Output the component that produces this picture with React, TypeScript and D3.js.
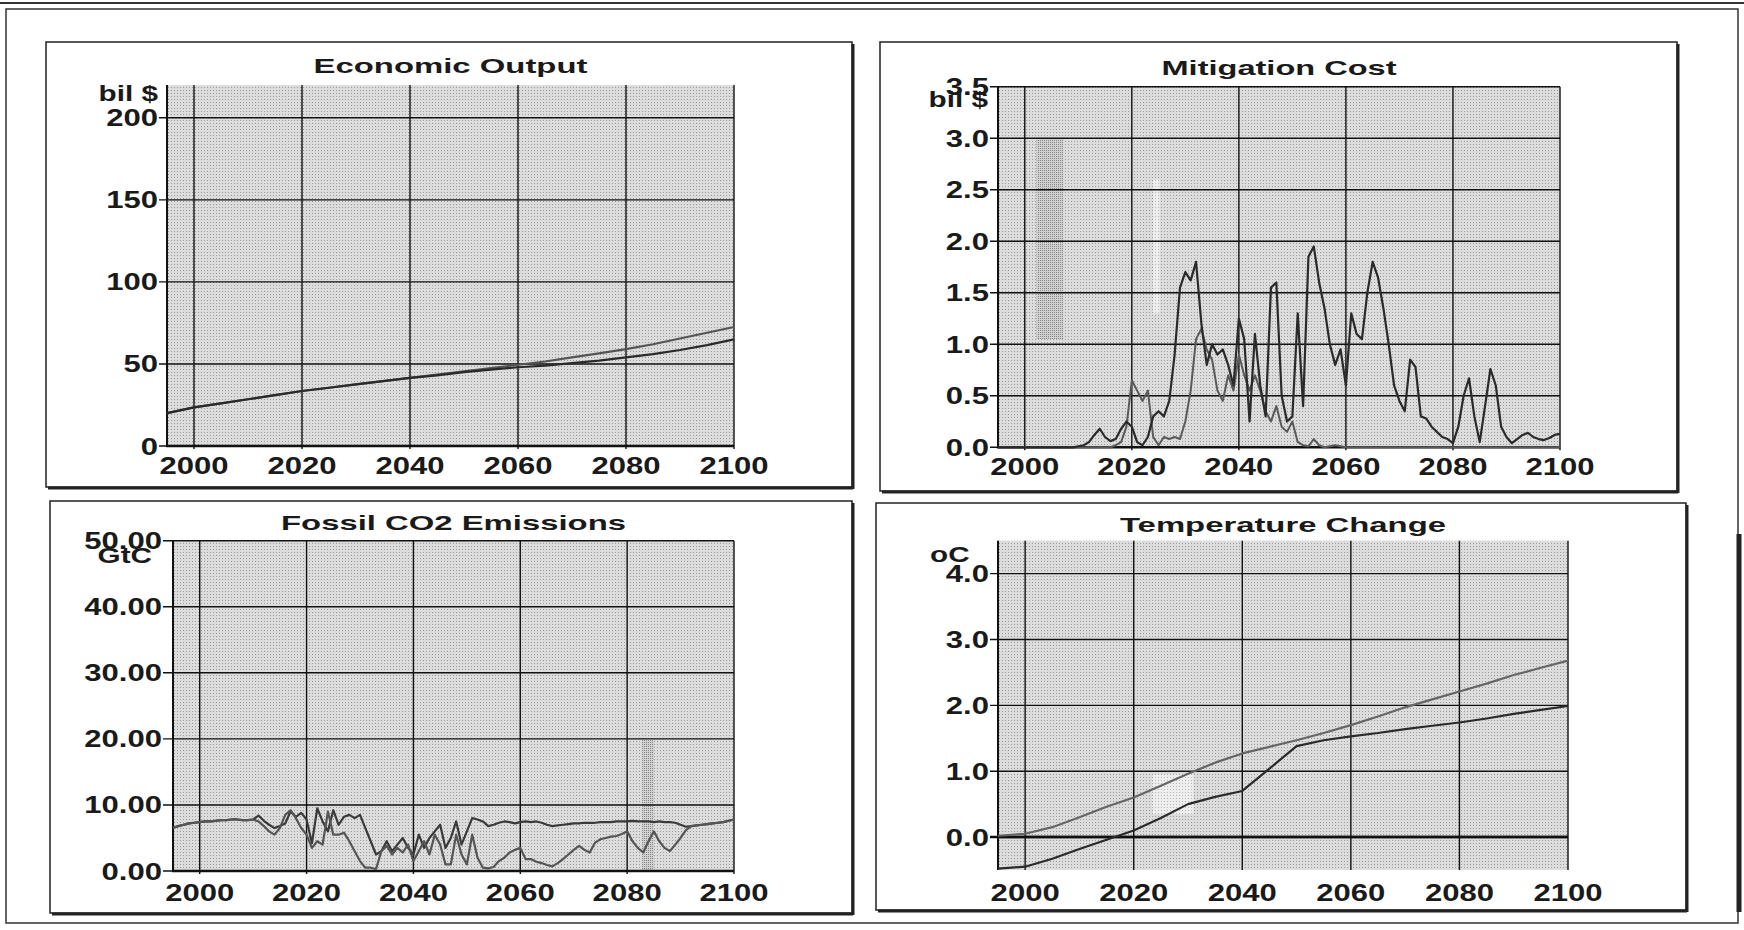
import React from "react";
import * as d3 from "d3";

// ---------- DATA ----------
const YEARS = Array.from({ length: 106 }, (_, i) => 1995 + i);
const YEARS5 = [1995, 2000, 2005, 2010, 2015, 2020, 2025, 2030, 2035, 2040, 2045, 2050, 2055, 2060, 2065, 2070, 2075, 2080, 2085, 2090, 2095, 2100];
const X_TICKS = [2000, 2020, 2040, 2060, 2080, 2100];

const ECON_A = [20, 23.5, 26, 28.5, 31, 33.5, 35.5, 37.5, 39.5, 41.5, 43.5, 45.5, 47.5, 49.5, 51.5, 54, 56.5, 59, 62, 65.5, 69, 72.5];
const ECON_B = [20, 23.5, 26, 28.5, 31, 33.5, 35.5, 37.5, 39.5, 41.5, 43, 45, 46.5, 48, 49, 50.5, 52, 54, 56, 58.5, 61.5, 65];
const ECON_TICKS = [0, 50, 100, 150, 200];

const MIT_A = [
  0, 0, 0, 0, 0, 0, 0, 0, 0, 0, 0, 0, 0, 0, 0,
  0.01, 0.02, 0.05, 0.12, 0.18, 0.1, 0.06, 0.08, 0.18, 0.25,
  0.2, 0.05, 0.02, 0.1, 0.3, 0.35, 0.3, 0.45, 0.9, 1.55,
  1.7, 1.62, 1.8, 1.2, 0.8, 1.0, 0.9, 0.95, 0.8, 0.6,
  1.25, 1.05, 0.25, 1.1, 0.6, 0.3, 1.55, 1.6, 0.5, 0.25,
  0.3, 1.3, 0.4, 1.85, 1.95, 1.6, 1.35, 1.0, 0.8, 0.95,
  0.6, 1.3, 1.1, 1.05, 1.5, 1.8, 1.65, 1.35, 1.0, 0.6,
  0.45, 0.35, 0.85, 0.78, 0.3, 0.28, 0.2, 0.15, 0.1, 0.08,
  0.04, 0.2, 0.5, 0.67, 0.3, 0.05, 0.4, 0.76, 0.6, 0.2,
  0.1, 0.04, 0.08, 0.12, 0.14, 0.1, 0.08, 0.07, 0.09, 0.12,
  0.13,
];
const MIT_B = [
  0, 0, 0, 0, 0, 0, 0, 0, 0, 0, 0, 0, 0, 0, 0, 0, 0, 0, 0, 0, 0, 0,
  0.02, 0.05, 0.2,
  0.65, 0.55, 0.45, 0.55, 0.1, 0.02, 0.1, 0.08, 0.1, 0.08,
  0.25, 0.55, 1.05, 1.15, 0.95, 0.85, 0.55, 0.45, 0.7, 0.55,
  0.9, 0.7, 0.55, 0.7, 0.55, 0.35, 0.25, 0.4, 0.2, 0.15,
  0.25, 0.05, 0.02, 0.01, 0.08, 0.02, 0, 0.01, 0.02, 0.01,
  0, 0, 0, 0, 0, 0, 0, 0, 0, 0,
  0, 0, 0, 0, 0, 0, 0, 0, 0, 0,
  0, 0, 0, 0, 0, 0, 0, 0, 0, 0,
  0, 0, 0, 0, 0, 0, 0, 0, 0, 0,
  0,
];
const MIT_TICKS = [0, 0.5, 1.0, 1.5, 2.0, 2.5, 3.0, 3.5];

const CO2_A = [
  6.5, 6.8, 7.0, 7.2, 7.3,
  7.4, 7.5, 7.5, 7.6, 7.7, 7.7, 7.8, 7.8, 7.7, 7.7,
  7.8, 8.4, 7.6, 7.0, 6.5, 6.8, 7.2, 9.0, 8.2, 8.8,
  7.8, 4.2, 9.5, 7.5, 6.0, 9.2, 7.0, 8.2, 8.5, 8.0,
  8.5, 6.5, 4.5, 2.5, 3.0, 4.5, 3.0, 4.0, 5.0, 3.5,
  2.5, 5.5, 3.5, 5.0, 6.0, 7.0, 3.5, 5.0, 7.5, 4.0,
  6.0, 8.0, 7.8, 7.5, 6.8, 7.0, 7.3, 7.5, 7.4, 7.2,
  7.4, 7.5, 7.4, 7.5, 7.3, 7.0, 6.8, 6.9, 7.0, 7.1,
  7.2, 7.2, 7.3, 7.3, 7.3, 7.4, 7.4, 7.4, 7.5, 7.5,
  7.5, 7.6, 7.5, 7.5, 7.5, 7.4, 7.5, 7.4, 7.4, 7.3,
  7.0, 6.7, 6.8, 6.9, 7.0, 7.1, 7.2, 7.3, 7.4, 7.6,
  7.8,
];
const CO2_B = [
  6.5, 6.8, 7.0, 7.2, 7.3,
  7.4, 7.5, 7.5, 7.6, 7.7, 7.7, 7.8, 7.8, 7.7, 7.7,
  7.8, 7.5, 6.8, 6.0, 5.5, 6.5, 8.5, 9.2, 8.0, 6.5,
  5.5, 3.5, 4.5, 4.0, 9.0, 5.5, 5.5, 5.8, 4.5, 3.0,
  1.5, 0.5, 0.5, 0.3, 3.0, 3.8, 2.5, 3.5, 2.8, 4.0,
  1.5, 3.0, 4.5, 2.5, 5.5, 4.0, 1.0, 1.0, 5.5, 2.5,
  1.0, 5.5, 2.0, 0.5, 0.4, 0.6, 1.5, 2.0, 2.8, 3.2,
  3.5, 1.8, 1.8, 1.4, 1.2, 0.9, 0.7, 1.2, 1.8, 2.5,
  3.2, 3.8, 3.2, 2.8, 4.3, 4.8, 5.0, 5.2, 5.3, 5.6,
  6.0, 4.5, 3.5, 2.8, 4.5, 6.0, 4.5, 3.5, 3.0, 4.0,
  5.0, 6.2, 6.8, 6.9, 7.0, 7.1, 7.2, 7.3, 7.4, 7.6,
  7.8,
];
const CO2_TICKS = [0, 10, 20, 30, 40, 50];

const TEMP_A = [0.02, 0.05, 0.15, 0.3, 0.46, 0.6, 0.78, 0.96, 1.13, 1.27, 1.37, 1.47, 1.58, 1.7, 1.83, 1.97, 2.09, 2.21, 2.33, 2.46, 2.57, 2.68];
const TEMP_B = [-0.48, -0.45, -0.33, -0.18, -0.04, 0.1, 0.29, 0.5, 0.61, 0.7, 1.04, 1.38, 1.47, 1.53, 1.58, 1.64, 1.69, 1.74, 1.8, 1.87, 1.93, 1.99];
const TEMP_TICKS = [0, 1, 2, 3, 4];

// ---------- STYLE ----------
const FONT = "'Liberation Sans', Arial, Helvetica, sans-serif";
const SX = 1.35;

type Series = { xs: number[]; ys: number[]; color: string; width: number };
type Patch = { x0: number; x1: number; y0: number; y1: number; fill: string };
type PanelCfg = {
  title: string;
  titleLen: number;
  titleY: number;
  frame: [number, number, number, number];
  left: number;
  right: number;
  top: number;
  bottom: number;
  yDomain: [number, number];
  yTicks: number[];
  yFmt: (v: number) => string;
  labelRight: number;
  xLabelY: number;
  unit: string;
  unitX: number;
  unitY: number;
  unitAnchor: "start" | "end";
  axisAtZero?: boolean;
  series: Series[];
  patches?: Patch[];
};

function WText(props: { x: number; y: number; anchor: "start" | "middle" | "end"; size: number; children: React.ReactNode; sx?: number }) {
  const { x, y, anchor, size, children, sx = SX } = props;
  return (
    <text
      transform={`translate(${x},${y}) scale(${sx},1)`}
      textAnchor={anchor}
      fontSize={size}
      fontWeight="bold"
      fontFamily={FONT}
      fill="#1a1a1a"
    >
      {children}
    </text>
  );
}

function Panel({ cfg }: { cfg: PanelCfg }) {
  const x = d3.scaleLinear().domain([1995, 2100]).range([cfg.left, cfg.right]);
  const y = d3.scaleLinear().domain(cfg.yDomain).range([cfg.bottom, cfg.top]);
  const line = d3
    .line<[number, number]>()
    .x((d) => x(d[0]))
    .y((d) => y(d[1]));
  const [fx0, fy0, fx1, fy1] = cfg.frame;
  const cx = (cfg.left + cfg.right) / 2;
  const axisY = cfg.axisAtZero ? y(0) : cfg.bottom;
  return (
    <g>
      <rect x={fx0} y={fy0} width={fx1 - fx0} height={fy1 - fy0} fill="#fff" stroke="#222" strokeWidth={1.5} />
      <line x1={fx0 + 2} y1={fy1 + 1} x2={fx1 + 1} y2={fy1 + 1} stroke="#222" strokeWidth={3} />
      <line x1={fx1 + 1} y1={fy0 + 2} x2={fx1 + 1} y2={fy1 + 2} stroke="#222" strokeWidth={3} />
      <text
        x={cx}
        y={cfg.titleY}
        textAnchor="middle"
        fontSize={21}
        fontWeight="bold"
        fontFamily={FONT}
        fill="#1a1a1a"
        textLength={cfg.titleLen}
        lengthAdjust="spacingAndGlyphs"
      >
        {cfg.title}
      </text>
      <rect x={cfg.left} y={cfg.top} width={cfg.right - cfg.left} height={cfg.bottom - cfg.top} fill="url(#halftone)" />
      {(cfg.patches || []).map((p, i) => (
        <rect key={"p" + i} x={x(p.x0)} y={y(p.y1)} width={x(p.x1) - x(p.x0)} height={y(p.y0) - y(p.y1)} fill={p.fill} />
      ))}
      {cfg.yTicks.map((t) => (
        <g key={"yt" + t}>
          <line x1={cfg.labelRight} x2={cfg.right} y1={y(t)} y2={y(t)} stroke="#111" strokeWidth={t === 0 && cfg.axisAtZero ? 2.5 : 1.4} />
          <WText x={cfg.labelRight - 1} y={y(t) + 8.5} anchor="end" size={23}>
            {cfg.yFmt(t)}
          </WText>
        </g>
      ))}
      {X_TICKS.map((t) => (
        <g key={"xt" + t}>
          <line x1={x(t)} x2={x(t)} y1={cfg.top} y2={cfg.bottom + (cfg.axisAtZero ? 0 : 3)} stroke="#111" strokeWidth={1.4} />
          <WText x={x(t)} y={cfg.xLabelY} anchor="middle" size={23}>
            {String(t)}
          </WText>
        </g>
      ))}
      <line x1={cfg.left} x2={cfg.left} y1={cfg.top} y2={cfg.bottom} stroke="#111" strokeWidth={2} />
      <line x1={cfg.left - 1} x2={cfg.right} y1={axisY} y2={axisY} stroke="#111" strokeWidth={2.5} />
      <WText x={cfg.unitX} y={cfg.unitY} anchor={cfg.unitAnchor} size={22}>
        {cfg.unit}
      </WText>
      {cfg.series.map((s, i) => (
        <path
          key={"s" + i}
          d={line(s.xs.map((xv, j) => [xv, s.ys[j]] as [number, number])) || ""}
          fill="none"
          stroke={s.color}
          strokeWidth={s.width}
          strokeLinejoin="round"
        />
      ))}
    </g>
  );
}

const PANELS: PanelCfg[] = [
  {
    title: "Economic Output",
    titleLen: 274,
    titleY: 73,
    frame: [46, 42, 852, 487],
    left: 167,
    right: 734,
    top: 85,
    bottom: 446,
    yDomain: [0, 220],
    yTicks: ECON_TICKS,
    yFmt: (v) => String(v),
    labelRight: 159,
    xLabelY: 474,
    unit: "bil $",
    unitX: 158,
    unitY: 101,
    unitAnchor: "end",
    series: [
      { xs: YEARS5, ys: ECON_A, color: "#555", width: 2.2 },
      { xs: YEARS5, ys: ECON_B, color: "#2a2a2a", width: 2.2 },
    ],
  },
  {
    title: "Mitigation Cost",
    titleLen: 235,
    titleY: 75,
    frame: [880, 42, 1677, 491],
    left: 998,
    right: 1560,
    top: 86.7,
    bottom: 447.3,
    yDomain: [0, 3.5],
    yTicks: MIT_TICKS,
    yFmt: (v) => v.toFixed(1),
    labelRight: 990,
    xLabelY: 475,
    unit: "bil $",
    unitX: 988,
    unitY: 107,
    unitAnchor: "end",
    series: [
      { xs: YEARS, ys: MIT_B, color: "#5a5a5a", width: 2 },
      { xs: YEARS, ys: MIT_A, color: "#2a2a2a", width: 2.2 },
    ],
    patches: [
      { x0: 2002.2, x1: 2007.2, y0: 1.05, y1: 3.0, fill: "url(#dense)" },
      { x0: 2024.0, x1: 2025.2, y0: 1.3, y1: 2.6, fill: "url(#light)" },
    ],
  },
  {
    title: "Fossil CO2 Emissions",
    titleLen: 345,
    titleY: 530,
    frame: [50, 501, 852, 913],
    left: 173,
    right: 734,
    top: 540.7,
    bottom: 871,
    yDomain: [0, 50],
    yTicks: CO2_TICKS,
    yFmt: (v) => v.toFixed(2),
    labelRight: 163,
    xLabelY: 901,
    unit: "GtC",
    unitX: 152,
    unitY: 563,
    unitAnchor: "end",
    series: [
      { xs: YEARS, ys: CO2_A, color: "#3a3a3a", width: 2.2 },
      { xs: YEARS, ys: CO2_B, color: "#555", width: 2.2 },
    ],
    patches: [{ x0: 2082.8, x1: 2085.0, y0: 0, y1: 19.8, fill: "url(#dense)" }],
  },
  {
    title: "Temperature Change",
    titleLen: 326,
    titleY: 532,
    frame: [876, 503, 1686, 910],
    left: 998,
    right: 1568,
    top: 540.7,
    bottom: 870,
    yDomain: [-0.5, 4.5],
    yTicks: TEMP_TICKS,
    yFmt: (v) => v.toFixed(1),
    labelRight: 990,
    xLabelY: 901,
    unit: "oC",
    unitX: 930,
    unitY: 562,
    unitAnchor: "start",
    axisAtZero: true,
    series: [
      { xs: YEARS5, ys: TEMP_A, color: "#666", width: 2.2 },
      { xs: YEARS5, ys: TEMP_B, color: "#2a2a2a", width: 2.2 },
    ],
    patches: [{ x0: 2023.5, x1: 2031, y0: 0.35, y1: 0.95, fill: "url(#light)" }],
  },
];

export default function App() {
  return (
    <svg
      width={1744}
      height={930}
      viewBox="0 0 1744 930"
      style={{ position: "absolute", left: 0, top: 0, background: "#fff" }}
    >
      <defs>
        <pattern id="halftone" width={3} height={3} patternUnits="userSpaceOnUse">
          <rect width={3} height={3} fill="#dcdcdc" />
          <rect width={1} height={1} fill="#9c9c9c" />
        </pattern>
        <pattern id="dense" width={2} height={2} patternUnits="userSpaceOnUse">
          <rect width={2} height={2} fill="#d0d0d0" />
          <rect width={1} height={1} fill="#888" />
        </pattern>
        <pattern id="light" width={3} height={3} patternUnits="userSpaceOnUse">
          <rect width={3} height={3} fill="#eeeeee" />
          <rect width={1} height={1} fill="#b8b8b8" />
        </pattern>
      </defs>
      <rect x={0} y={0} width={1744} height={930} fill="#fff" />
      <line x1={0} y1={3} x2={1744} y2={3} stroke="#333" strokeWidth={2} />
      <rect x={6} y={9} width={1732} height={914} fill="none" stroke="#333" strokeWidth={1.5} />
      <line x1={1739} y1={534} x2={1739} y2={912} stroke="#222" strokeWidth={5} />
      {PANELS.map((p) => (
        <Panel key={p.title} cfg={p} />
      ))}
    </svg>
  );
}
